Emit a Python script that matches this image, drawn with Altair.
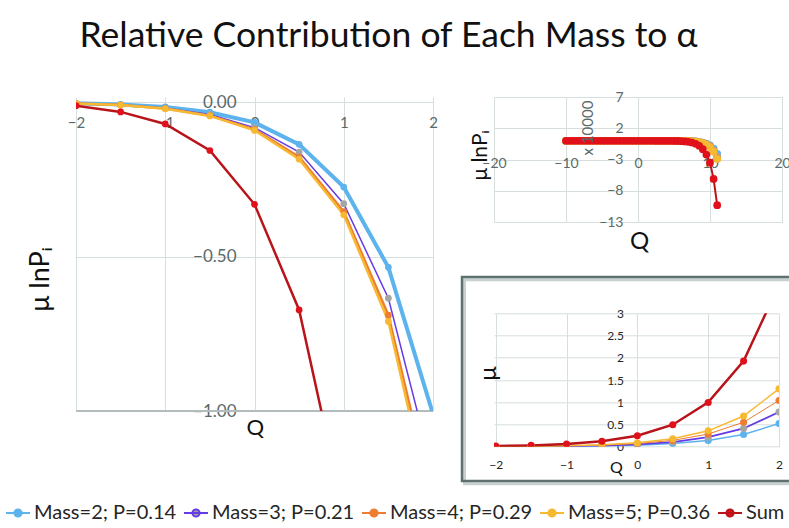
import altair as alt
import pandas as pd

TITLE = "Relative Contribution of Each Mass to α"
SERIES = ["Mass=2; P=0.14", "Mass=3; P=0.21", "Mass=4; P=0.29", "Mass=5; P=0.36", "Sum"]
LINE_COLORS = ["#5cb3ee", "#643ce6", "#ed7d31", "#f8b932", "#b8141a"]
MARKER_COLORS = ["#5cb3ee", "#a5a5a5", "#ed7d31", "#f8b932", "#e0111b"]

# ---- left chart: mu*lnP_i vs Q ----
Q_SMALL = [-2, -1.5, -1, -0.5, 0, 0.5, 1, 1.5, 2]
MU_LNP_M2 = [-0.004, -0.008, -0.016, -0.033, -0.066, -0.137, -0.275, -0.535, -1.01]
MU_LNP_M3 = [-0.005, -0.009, -0.020, -0.040, -0.083, -0.162, -0.329, -0.635, -1.20]
MU_LNP_M4 = [-0.005, -0.010, -0.021, -0.044, -0.089, -0.178, -0.355, -0.690, -1.30]
MU_LNP_M5 = [-0.005, -0.010, -0.022, -0.045, -0.092, -0.185, -0.365, -0.710, -1.34]
MU_LNP_SUM = [-0.012, -0.032, -0.071, -0.157, -0.331, -0.673, -1.330, -2.570, -4.85]
BOTTOM_LINE = [-1.0]

# ---- bottom-right chart: mu vs Q ----
MU_M2 = [0.002, 0.004, 0.008, 0.017, 0.034, 0.070, 0.141, 0.275, 0.52]
MU_M3 = [0.003, 0.006, 0.013, 0.026, 0.054, 0.105, 0.214, 0.410, 0.78]
MU_M4 = [0.004, 0.008, 0.017, 0.035, 0.071, 0.142, 0.284, 0.550, 1.04]
MU_M5 = [0.005, 0.011, 0.021, 0.044, 0.089, 0.178, 0.357, 0.690, 1.30]
MU_SUM = [0.014, 0.029, 0.059, 0.122, 0.248, 0.495, 0.996, 1.925, 3.64]

# ---- top-right chart: mu*lnP_i (x 10000) over a wide Q range ----
Q_WIDE = [-10, -9.5, -9, -8.5, -8, -7.5, -7, -6.5, -6, -5.5, -5, -4.5, -4, -3.5, -3,
          -2.5, -2, -1.5, -1, -0.5, 0, 0.5, 1, 1.5, 2, 2.5, 3, 3.5, 4, 4.5, 5, 5.5,
          6, 6.5, 7, 7.5, 8, 8.5, 9, 9.5, 10, 10.5, 11]
W_M2 = [0.0, 0.0, 0.0, 0.0, 0.0, 0.0, 0.0, 0.0, 0.0, 0.0, 0.0, 0.0, 0.0, 0.0, 0.0,
        0.0, 0.0, 0.0, 0.0, 0.0, 0.0, 0.0, 0.0, 0.0, 0.0, 0.0, 0.0, 0.0, 0.0, 0.0,
        -0.004, -0.007, -0.012, -0.020, -0.035, -0.057, -0.10, -0.165, -0.28, -0.45,
        -0.72, -1.26, -2.1]
W_M3 = [0.0, 0.0, 0.0, 0.0, 0.0, 0.0, 0.0, 0.0, 0.0, 0.0, 0.0, 0.0, 0.0, 0.0, 0.0,
        0.0, 0.0, 0.0, 0.0, 0.0, 0.0, 0.0, 0.0, 0.0, 0.0, 0.0, 0.0, 0.0, 0.0, 0.0,
        -0.005, -0.008, -0.014, -0.024, -0.041, -0.068, -0.115, -0.19, -0.32, -0.53,
        -0.84, -1.46, -2.5]
W_M4 = [0.0, 0.0, 0.0, 0.0, 0.0, 0.0, 0.0, 0.0, 0.0, 0.0, 0.0, 0.0, 0.0, 0.0, 0.0,
        0.0, 0.0, 0.0, 0.0, 0.0, 0.0, 0.0, 0.0, 0.0, 0.0, 0.0, 0.0, 0.0, 0.0, 0.0,
        -0.005, -0.009, -0.016, -0.027, -0.046, -0.076, -0.13, -0.215, -0.36, -0.59,
        -0.94, -1.64, -2.8]
W_M5 = [0.0, 0.0, 0.0, 0.0, 0.0, 0.0, 0.0, 0.0, 0.0, 0.0, 0.0, 0.0, 0.0, 0.0, 0.0,
        0.0, 0.0, 0.0, 0.0, 0.0, 0.0, 0.0, 0.0, 0.0, 0.0, 0.0, 0.0, 0.0, 0.0, 0.0,
        -0.006, -0.010, -0.017, -0.029, -0.049, -0.080, -0.138, -0.23, -0.39, -0.63,
        -1.00, -1.74, -2.9]
W_SUM = [0.0, 0.0, 0.0, 0.0, 0.0, 0.0, 0.0, 0.0, 0.0, 0.0, 0.0, 0.0, 0.0, 0.0, 0.0,
         0.0, 0.0, 0.0, 0.0, 0.0, 0.0, 0.0, 0.0, 0.0, 0.0, -0.001, -0.002, -0.004,
         -0.007, -0.012, -0.020, -0.035, -0.060, -0.10, -0.17, -0.28, -0.48, -0.80,
         -1.35, -2.2, -3.5, -6.1, -10.3]

LEFT_X_TICKS = [-2, -1, 0, 1, 2]
LEFT_Y_TICKS = [0, -0.5, -1]
TR_X_TICKS = [-20, -10, 0, 10, 20]
TR_Y_TICKS = [7, 2, -3, -8, -13]
BR_X_TICKS = [-2, -1, 0, 1, 2]
BR_Y_TICKS = [0, 0.5, 1, 1.5, 2, 2.5, 3]

FONT = "Lato"
GRID = "#d6dede"
LBL = "#5a6a6a"


def long_df(q, lists):
    rows = []
    for name, vals in zip(SERIES, lists):
        for qq, v in zip(q, vals):
            rows.append({"Q": qq, "val": v, "series": name})
    return pd.DataFrame(rows)


left_df = long_df(Q_SMALL, [MU_LNP_M2, MU_LNP_M3, MU_LNP_M4, MU_LNP_M5, MU_LNP_SUM])
br_df = long_df(Q_SMALL, [MU_M2, MU_M3, MU_M4, MU_M5, MU_SUM])
tr_df = long_df(Q_WIDE, [W_M2, W_M3, W_M4, W_M5, W_SUM])

SYMBOL = "M-1,0H1M-0.3,0A0.3,0.3,0,1,1,0.3,0A0.3,0.3,0,1,1,-0.3,0Z"
LEG = alt.Legend(title=None, orient="none", legendX=-71, legendY=403,
                 direction="horizontal", symbolType=SYMBOL, symbolSize=576,
                 symbolStrokeWidth=2, labelFont=FONT, labelFontSize=20,
                 labelColor="#262626", labelOffset=3, columnPadding=3,
                 gridAlign="all", padding=0, labelLimit=300)

stroke_enc = alt.Stroke("series:N", scale=alt.Scale(domain=SERIES, range=LINE_COLORS), legend=LEG)
fill_enc = alt.Fill("series:N", scale=alt.Scale(domain=SERIES, range=MARKER_COLORS), legend=LEG)


def sw(widths):
    return alt.StrokeWidth("series:N", scale=alt.Scale(type="ordinal", domain=SERIES, range=widths),
                           legend=None)


def panel(df, xenc, yenc, widths, size, clip):
    lines = alt.Chart(df).mark_line(clip=clip).encode(
        x=xenc, y=yenc, stroke=stroke_enc, strokeWidth=sw(widths))
    pts = alt.Chart(df).mark_point(filled=True, size=size, opacity=1, clip=clip).encode(
        x=xenc, y=yenc, fill=fill_enc)
    return lines, pts


# ---------------- left ----------------
lx = alt.X("Q:Q", scale=alt.Scale(domain=[-2, 2], nice=False, zero=False),
           axis=alt.Axis(values=LEFT_X_TICKS, orient="bottom", offset=-309, labelPadding=13,
                         labelFontSize=15, labelColor=LBL, gridColor=GRID,
                         title="Q", titleX=178.7, titleY=325.8, titleFontSize=22,
                         titleAlign="center", titleBaseline="middle"))
ly = alt.Y("val:Q", scale=alt.Scale(domain=[-1, 0.0162], nice=False, zero=False),
           axis=alt.Axis(values=LEFT_Y_TICKS, format=".2f", orient="left", offset=-178.5,
                         labelPadding=18.5, labelFontSize=17, labelColor=LBL, gridColor=GRID,
                         title="μ lnPᵢ", titleX=-214.5, titleY=182, titleAngle=270,
                         titleFontSize=27, titleAlign="center", titleBaseline="middle"))
l_lines, l_pts = panel(left_df, lx, ly, [4, 1.5, 2.5, 2.5, 2.5], 45, True)
l_bottom = alt.Chart(pd.DataFrame({"val": BOTTOM_LINE})).mark_rule(
    color="#b3bcbc", strokeWidth=2).encode(y="val:Q")
title_df = pd.DataFrame({"t": [TITLE]})
t_main = alt.Chart(title_df).mark_text(font=FONT, fontSize=35.5, align="center",
                                       baseline="alphabetic", color="#111111").encode(
    text="t:N", x=alt.value(312.5), y=alt.value(-50))
left = alt.layer(l_bottom, l_lines, l_pts, t_main).properties(width=357, height=314)

# ---------------- top right ----------------
tx = alt.X("Q:Q", scale=alt.Scale(domain=[-20, 20], nice=False, zero=False),
           axis=alt.Axis(values=TR_X_TICKS, orient="bottom", offset=-81.25, labelPadding=16,
                         labelFontSize=14, labelColor=LBL, gridColor=GRID,
                         title="Q", titleX=145, titleY=100.25, titleFontSize=24,
                         titleAlign="center", titleBaseline="middle"))
ty = alt.Y("val:Q", scale=alt.Scale(domain=[-13, 7], nice=False, zero=False),
           axis=alt.Axis(values=TR_Y_TICKS, format="d", orient="left", offset=-144,
                         labelPadding=15, labelFontSize=14, labelColor=LBL, gridColor=GRID,
                         title="μ lnPᵢ", titleX=-158, titleY=58, titleAngle=270,
                         titleFontSize=21, titleAlign="center", titleBaseline="middle"))
t_lines, t_pts = panel(tr_df, tx, ty, [2, 2, 2, 2, 2], 60, False)
unit_df = pd.DataFrame({"t": ["x 10000"]})
t_unit = alt.Chart(unit_df).mark_text(font=FONT, fontSize=15, angle=270, align="center",
                                      baseline="middle", color=LBL).encode(
    text="t:N", x=alt.value(93.7), y=alt.value(31))
topright = alt.layer(t_lines, t_pts, t_unit).properties(width=288, height=125)

# ---------------- bottom right ----------------
bx = alt.X("Q:Q", scale=alt.Scale(domain=[-2.024, 2], nice=False, zero=False),
           axis=alt.Axis(values=BR_X_TICKS, orient="bottom", labelPadding=13,
                         labelFontSize=12, labelColor="#262626", gridColor=GRID,
                         title="Q", titleX=122, titleY=21.3, titleFontSize=16,
                         titleAlign="center", titleBaseline="middle"))
by = alt.Y("val:Q", scale=alt.Scale(domain=[0, 3], nice=False, zero=False),
           axis=alt.Axis(values=BR_Y_TICKS, format="~g", orient="left", offset=-143.4,
                         labelPadding=14, labelFontSize=12, labelColor="#262626",
                         gridColor=GRID, title="μ", titleX=-149.4, titleY=59.7,
                         titleAngle=270, titleFontSize=24, titleAlign="center",
                         titleBaseline="middle"))
b_lines, b_pts = panel(br_df, bx, by, [1.5, 1.8, 1, 1.5, 2.5], 50, True)
frame_df = pd.DataFrame({"k": [0]})
frame_shadow = alt.Chart(frame_df).mark_rect(filled=False, stroke="#c9d0d0", strokeWidth=3).encode(
    x=alt.value(-29.5), x2=alt.value(303), y=alt.value(-33.5), y2=alt.value(170.5))
frame = alt.Chart(frame_df).mark_rect(filled=False, stroke="#5e7070", strokeWidth=2.5).encode(
    x=alt.value(-32), x2=alt.value(300), y=alt.value(-36.3), y2=alt.value(167.7))
bottomright = alt.layer(frame_shadow, frame, b_lines, b_pts).properties(width=285, height=133.4)

right = alt.vconcat(topright, bottomright, spacing=91.3, bounds="flush").resolve_scale(
    strokeWidth="independent")

chart = alt.hconcat(left, right, spacing=61, bounds="flush").resolve_scale(
    strokeWidth="independent"
).properties(
    autosize=alt.AutoSizeParams(type="none"),
    padding={"left": 76, "top": 97, "right": 713, "bottom": 431},
    background="white",
).configure_view(stroke=None).configure_axis(
    domain=False, ticks=False, grid=True, labelFont=FONT, titleFont=FONT,
    titleFontWeight="normal", titleColor="#111111", labelFlush=False,
    labelOverlap=False, labelBound=False, gridWidth=1,
)

chart.save("out.html", embed_options={"renderer": "svg", "actions": False})
